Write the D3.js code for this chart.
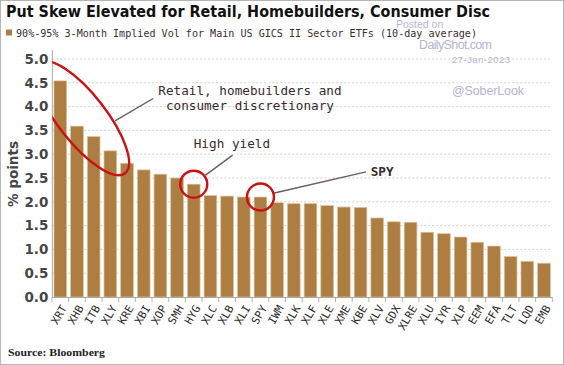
<!DOCTYPE html>
<html><head><meta charset="utf-8">
<script src="https://cdn.jsdelivr.net/npm/d3@7"></script>
<style>
html,body{margin:0;padding:0;background:#fff;}
svg{display:block;}
</style></head>
<body>
<svg id="chart" width="564" height="365"></svg>
<script>
// ---- data ----
const categories = ["XRT","XHB","ITB","XLY","KRE","XBI","XOP","SMH","HYG","XLC","XLB","XLI","SPY","IWM","XLK","XLF","XLE","XME","KBE","XLV","GDX","XLRE","XLU","IYR","XLP","EEM","EFA","TLT","LQD","EMB"];
const values = [4.54,3.59,3.37,3.07,2.81,2.67,2.58,2.50,2.37,2.13,2.12,2.10,2.10,1.98,1.96,1.96,1.92,1.89,1.88,1.66,1.58,1.57,1.36,1.33,1.26,1.15,1.07,0.85,0.75,0.71];
const yTicks = [0,0.5,1,1.5,2,2.5,3,3.5,4,4.5,5];
const title = "Put Skew Elevated for Retail, Homebuilders, Consumer Disc";
const legendLabel = "90%-95% 3-Month Implied Vol for Main US GICS II Sector ETFs (10-day average)";
const yTitle = "% points";
const source = "Source: Bloomberg";
// annotations (u = bar-index units, v = value units)
const ellipseCenter = [1.30, 3.76];
const retailText = ["Retail, homebuilders and","consumer discretionary"];
const retailLeader = [[3.28,3.70],[5.57,4.17]];
const hyIndex = 8, spyIndex = 12;
const hyLeader = [[8.71,2.56],[10.33,2.98]];
const spyLeader = [[12.77,2.18],[18.33,2.63]];

const svg = d3.select("#chart");
const W = 564, H = 365;
const L = 52.3, R = 552, T = 59, B = 297;

const x = d3.scaleBand().domain(categories).range([L, R]).paddingInner(0.24).paddingOuter(0.1);
const y = d3.scaleLinear().domain([0, 5]).range([B, T]);
const bw = x.bandwidth(), step = x.step();
const xu = u => x(categories[0]) + bw / 2 + u * step;

// frame
svg.append("rect").attr("x", 0.5).attr("y", 0.5).attr("width", W - 1).attr("height", H - 1)
  .attr("fill", "#fff").attr("stroke", "#b5b5b5");

// gridlines
svg.append("g").selectAll("line").data(yTicks.filter(d => d > 0)).join("line")
  .attr("x1", L).attr("x2", R).attr("y1", d => y(d)).attr("y2", d => y(d))
  .attr("stroke", "#cfcfcf").attr("stroke-dasharray", "2,2").attr("stroke-width", 1);

// watermarks
const wm = svg.append("g").attr("font-family", "Liberation Sans, Arial, sans-serif").attr("fill", "#b4b4d4");
wm.append("text").attr("x", 396).attr("y", 28).attr("font-size", 10.5).text("Posted on");
wm.append("text").attr("x", 419).attr("y", 49).attr("font-size", 12.5).attr("textLength", 73).text("DailyShot.com");
wm.append("text").attr("x", 452).attr("y", 63).attr("font-size", 9.5).attr("textLength", 58).text("27-Jan-2023");
wm.append("text").attr("x", 452).attr("y", 95).attr("font-size", 12.5).attr("textLength", 72).text("@SoberLook");

// bars
svg.append("g").selectAll("rect").data(values).join("rect")
  .attr("x", (d, i) => x(categories[i])).attr("width", bw)
  .attr("y", d => y(d)).attr("height", d => B - y(d))
  .attr("fill", "#ad7d42").attr("stroke", "#dcc39e").attr("stroke-width", 0.7);

// y axis
const yAxis = svg.append("g").attr("transform", `translate(${L},0)`)
  .call(d3.axisLeft(y).tickValues(yTicks).tickFormat(d3.format(".1f")).tickSize(0).tickPadding(4));
yAxis.select(".domain").remove();
yAxis.selectAll("text").attr("font-family", "DejaVu Sans, Verdana, sans-serif").attr("font-size", 13.5)
  .attr("font-weight", "bold").attr("fill", "#454545");
svg.append("line").attr("x1", L).attr("x2", L).attr("y1", 50).attr("y2", B).attr("stroke", "#a8a8a8");

// x axis baseline + ticks
svg.append("line").attr("x1", L).attr("x2", R).attr("y1", B + 0.5).attr("y2", B + 0.5).attr("stroke", "#a8a8a8");
const bounds = categories.map(c => x(c) - (step - bw) / 2).concat([x(categories[categories.length - 1]) + bw + (step - bw) / 2]);
svg.append("g").selectAll("line").data(bounds).join("line")
  .attr("x1", d => d).attr("x2", d => d).attr("y1", B).attr("y2", B + 5).attr("stroke", "#b0b0b0");

// x labels
svg.append("g").selectAll("text").data(categories).join("text")
  .attr("transform", c => `translate(${x(c) + bw / 2 + 7},${B + 11}) rotate(-60)`)
  .attr("text-anchor", "end").attr("font-family", "DejaVu Sans Mono, monospace")
  .attr("font-size", 11).attr("fill", "#2a2a2a").text(c => c);

// y title
svg.append("text").attr("transform", "translate(18,174) rotate(-90)").attr("text-anchor", "middle")
  .attr("font-family", "DejaVu Sans, Verdana, sans-serif").attr("font-size", 13.5).attr("font-weight", "bold")
  .attr("fill", "#454545").text(yTitle);

// title
svg.append("text").attr("x", 6).attr("y", 17).attr("font-family", "DejaVu Sans, Verdana, sans-serif")
  .attr("font-weight", "bold").attr("font-size", 16.5).attr("fill", "#111")
  .attr("textLength", 484).attr("lengthAdjust", "spacingAndGlyphs").text(title);

// legend
svg.append("rect").attr("x", 6).attr("y", 29.5).attr("width", 6).attr("height", 6).attr("fill", "#ad7d42");
svg.append("text").attr("x", 16).attr("y", 37).attr("font-family", "DejaVu Sans Mono, monospace")
  .attr("font-size", 10.5).attr("fill", "#3a2e2e").attr("textLength", 461).attr("lengthAdjust", "spacingAndGlyphs")
  .text(legendLabel);

// annotations
const defs = svg.append("defs");
defs.append("clipPath").attr("id", "clipPlot").append("rect").attr("x", L).attr("y", 0).attr("width", W - L).attr("height", H);
const line = d3.line().x(d => xu(d[0])).y(d => y(d[1]));
const leaderColor = "#6e5a5a";
[retailLeader, hyLeader, spyLeader].forEach(seg => {
  svg.append("path").attr("d", line(seg)).attr("stroke", leaderColor).attr("stroke-width", 1.4).attr("fill", "none");
});
svg.append("g").attr("clip-path", "url(#clipPlot)")
  .append("ellipse")
  .attr("transform", `translate(${xu(ellipseCenter[0])},${y(ellipseCenter[1])}) rotate(52)`)
  .attr("rx", 70).attr("ry", 24)
  .attr("fill", "none").attr("stroke", "#cc1111").attr("stroke-width", 2.4);
[hyIndex, spyIndex].forEach(i => {
  svg.append("circle").attr("cx", xu(i)).attr("cy", y(values[i])).attr("r", 13.5)
    .attr("fill", "none").attr("stroke", "#cc1111").attr("stroke-width", 2.4);
});
const annFont = "DejaVu Sans Mono, monospace";
const rt = svg.append("text").attr("font-family", annFont).attr("font-size", 12.7).attr("fill", "#3a2a2a").attr("text-anchor", "middle");
rt.append("tspan").attr("x", xu(11.37)).attr("y", 94.5).text(retailText[0]);
rt.append("tspan").attr("x", xu(11.37)).attr("y", 110).text(retailText[1]);
svg.append("text").attr("x", xu(10.29)).attr("y", 147.5).attr("text-anchor", "middle").attr("font-family", annFont)
  .attr("font-size", 12.7).attr("fill", "#3a2a2a").text("High yield");
svg.append("text").attr("x", xu(18.61)).attr("y", 176).attr("font-family", annFont)
  .attr("font-size", 12.7).attr("font-weight", "bold").attr("fill", "#3a2a2a").text("SPY");

// source
svg.append("text").attr("x", 8).attr("y", 356).attr("font-family", "Liberation Serif, Times New Roman, serif")
  .attr("font-weight", "bold").attr("font-size", 11).attr("fill", "#222")
  .attr("textLength", 97).attr("lengthAdjust", "spacingAndGlyphs").text(source);
</script>
</body></html>
